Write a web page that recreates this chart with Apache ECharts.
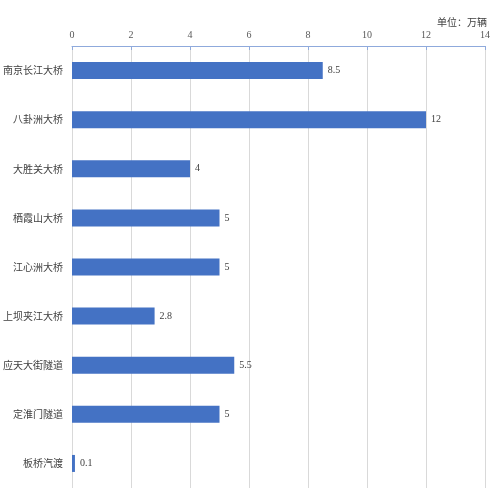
<!DOCTYPE html>
<html><head><meta charset="utf-8">
<script src="https://cdn.jsdelivr.net/npm/echarts@6/dist/echarts.min.js"></script>
<style>html,body{margin:0;padding:0;background:#fff}#c{width:500px;height:499px}</style>
</head><body><div id="c"></div>
<script>
const categories = ['南京长江大桥','八卦洲大桥','大胜关大桥','栖霞山大桥','江心洲大桥','上坝夹江大桥','应天大街隧道','定淮门隧道','板桥汽渡'];
const values = [8.5, 12, 4, 5, 5, 2.8, 5.5, 5, 0.1];
const unitLabel = '单位：万辆';

const chart = echarts.init(document.getElementById('c'));
chart.setOption({
  animation: false,
  backgroundColor: '#fff',
  title: {
    text: unitLabel, right: 13, top: 17, padding: 0,
    textStyle: {fontSize: 10, fontWeight: 'normal', color: '#404040', fontFamily: 'Noto Sans CJK SC'}
  },
  grid: {left: 72, right: 15, top: 46, bottom: 11, containLabel: false, outerBoundsMode: 'none'},
  xAxis: {
    type: 'value', position: 'top', min: 0, max: 14, interval: 2,
    axisLine: {show: true, lineStyle: {color: '#8faadc', width: 1}},
    axisTick: {show: true, length: 4, inside: true, lineStyle: {color: '#8faadc'}},
    axisLabel: {color: '#595959', fontSize: 10, fontFamily: 'Liberation Serif', margin: 6},
    splitLine: {show: true, lineStyle: {color: '#d9d9d9'}}
  },
  yAxis: {
    type: 'category', data: categories, inverse: true,
    axisLine: {show: false}, axisTick: {show: false},
    axisLabel: {color: '#404040', fontSize: 10, fontFamily: 'Noto Sans CJK SC', margin: 9}
  },
  series: [{
    type: 'bar', data: values, barWidth: 17,
    itemStyle: {color: '#4472c4'},
    label: {show: true, position: 'right', distance: 5, color: '#404040', fontSize: 10, fontFamily: 'Liberation Serif'}
  }]
});
</script></body></html>
